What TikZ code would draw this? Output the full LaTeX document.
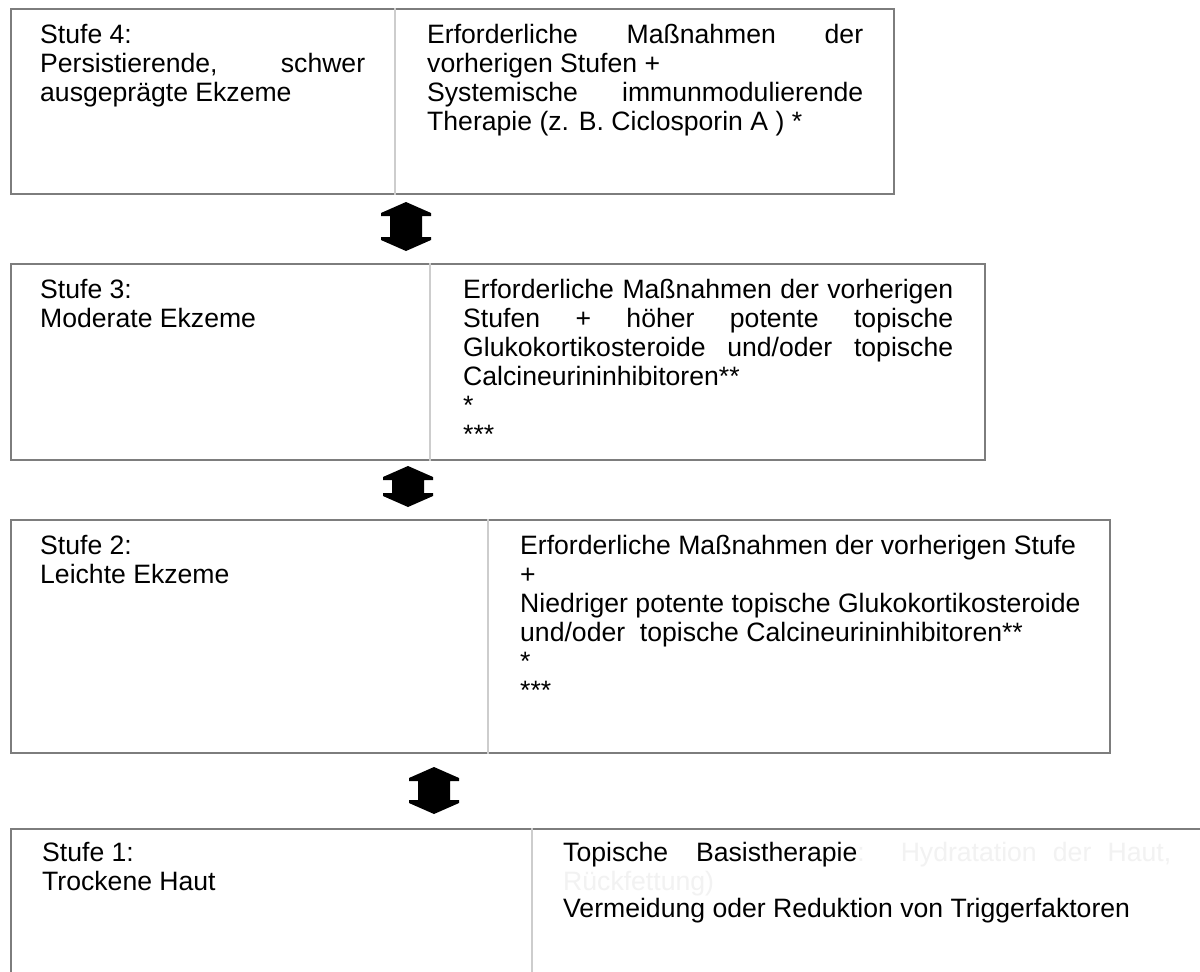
\documentclass[tikz,border=0pt]{standalone}
\usepackage{fontspec}
\setmainfont{Liberation Sans}
\usetikzlibrary{calc}
\definecolor{bordergray}{RGB}{125,125,125}
\definecolor{divgray}{RGB}{205,205,205}
\definecolor{faint}{RGB}{242,242,242}
\newcommand\txt[2]{\parbox[t]{#1pt}{\fontsize{26.6}{29}\selectfont\lineskiplimit=-100pt\raggedright #2}}
\newcommand\blockarrow[2]{%
  \fill[black] (#1) -- ++(25,11) -- ++(0,3) -- ++(-9,0) -- ($(#2)+(16,-14)$) -- ++(9,0) -- ++(0,3) -- (#2)
   -- ++(-25,-11) -- ++(0,-3) -- ++(9,0) -- ($(#1)+(-16,14)$) -- ++(-9,0) -- ++(0,-3) -- cycle;}
\tikzset{
  box/.style={draw=bordergray, line width=2.2pt, anchor=north west, inner sep=0pt},
  div/.style={draw=divgray, line width=1.2pt},
  lbl/.style={anchor=base west, inner sep=0pt}
}
\begin{document}
\begin{tikzpicture}[x=1pt,y=-1pt]
\clip (0,0) rectangle (1200,972);
\fill[white] (0,0) rectangle (1200,972);
% boxes
\node[box, minimum width=883pt, minimum height=185pt] (s4) at (10,8) {};
\node[box, minimum width=974pt, minimum height=196pt] (s3) at (10,263) {};
\node[box, minimum width=1099pt, minimum height=233pt] (s2) at (10,519) {};
\node[box, minimum width=1220pt, minimum height=200pt] (s1) at (10,828) {};
% dividers
\draw[div] ([xshift=385pt]s4.north west) -- ([xshift=385pt]s4.south west);
\draw[div] ([xshift=420pt]s3.north west) -- ([xshift=420pt]s3.south west);
\draw[div] ([xshift=478pt]s2.north west) -- ([xshift=478pt]s2.south west);
\draw[div] ([xshift=522pt]s1.north west) -- ([xshift=522pt]s1.south west);
% texts
\node[lbl] (t4l) at (40,43) {\txt{325}{Stufe 4:\\ \makebox[\linewidth][s]{Persistierende, schwer}\\ ausgeprägte Ekzeme}};
\node[lbl] (t4r) at (427,43) {\txt{436}{\makebox[\linewidth][s]{Erforderliche Maßnahmen der}\\ vorherigen Stufen +\\ \makebox[\linewidth][s]{Systemische immunmodulierende}\\ Therapie (z. B. Ciclosporin A ) {*}}};
\node[lbl] (t3l) at (40,298) {\txt{360}{Stufe 3:\\ Moderate Ekzeme}};
\node[lbl] (t3r) at (463,298) {\txt{490}{\makebox[\linewidth][s]{Erforderliche Maßnahmen der vorherigen}\\ \makebox[\linewidth][s]{Stufen + höher potente topische}\\ \makebox[\linewidth][s]{Glukokortikosteroide und/oder topische}\\ Calcineurininhibitoren{**}\\{}*\\{}***}};
\node[lbl] (t2l) at (40,554) {\txt{420}{Stufe 2:\\ Leichte Ekzeme}};
\node[lbl] (t2r) at (520,554) {\txt{580}{Erforderliche Maßnahmen der vorherigen Stufe\\ +\\ Niedriger potente topische Glukokortikosteroide\\ und/oder\ \ topische Calcineurininhibitoren{**}\\{}*\\{}***}};
\node[lbl] (t1l) at (42,861) {\txt{460}{Stufe 1:\\ Trockene Haut}};
\node[lbl] (t1r) at (563,861) {\txt{612}{\leavevmode\hbox to 608pt{Topische\hspace{28pt}Basistherapie\textcolor{faint}{:}\hspace{36pt}\textcolor{faint}{Hydratation\hfill der\hfill Haut,}}\\ \textcolor{faint}{Rückfettung)}\\[-2pt] Vermeidung oder Reduktion von Triggerfaktoren}};
% arrows
\coordinate (a1t) at (406,202);
\coordinate (a1b) at (406,251);
\coordinate (a2t) at (408,466);
\coordinate (a2b) at (408,507);
\coordinate (a3t) at (434,767);
\coordinate (a3b) at (434,814);
\blockarrow{a1t}{a1b}
\blockarrow{a2t}{a2b}
\blockarrow{a3t}{a3b}
\end{tikzpicture}
\end{document}
